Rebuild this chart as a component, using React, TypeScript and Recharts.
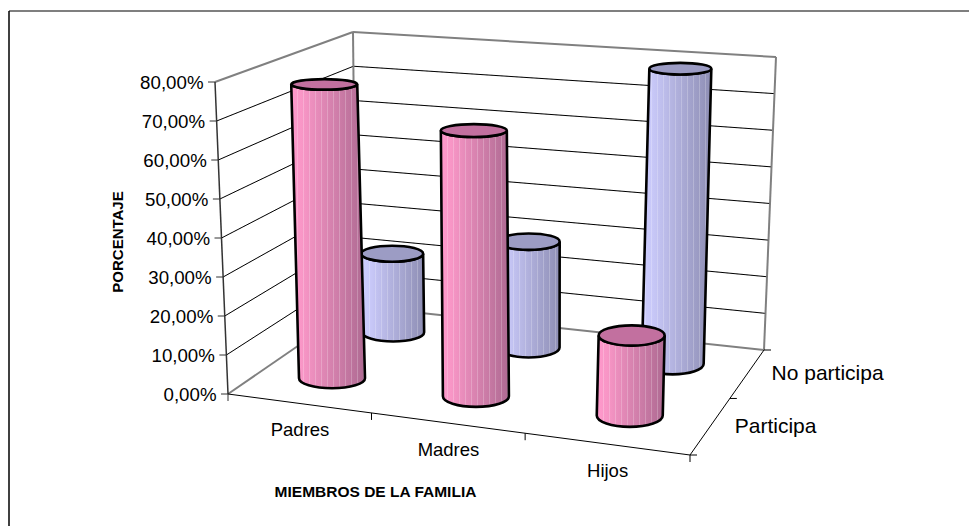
import React from "react";
import { Bar, BarChart, XAxis, YAxis } from "recharts";

const categories = ["Padres", "Madres", "Hijos"];
const participa = [77, 68, 20];
const noParticipa = [22, 29, 79];
const valueTicks = [0, 10, 20, 30, 40, 50, 60, 70, 80];
const depthLabels = ["Participa", "No participa"];

const data = categories.map((name, i) => ({
  name,
  participa: participa[i],
  noParticipa: noParticipa[i],
}));

const W = 969;
const H = 526;
const FONT = "'Liberation Sans', Arial, sans-serif";

// plot rectangle handed to recharts; its scales get mapped onto the 3d box below
const LEFT = 228;
const RIGHT = 690;
const TOP = 82;
const BOTTOM = 394;
const AXIS_W = 60;
const AXIS_H = 40;

type Pt = [number, number];

const floorQuad: Pt[] = [[228, 394], [690, 455], [764, 350], [356, 306]];
const topQuad: Pt[] = [[215, 82], [705, 120], [776, 57], [353, 32]];

function homography(q: Pt[]) {
  const [[x0, y0], [x1, y1], [x2, y2], [x3, y3]] = q;
  const dx1 = x1 - x2, dx2 = x3 - x2, sx = x0 - x1 + x2 - x3;
  const dy1 = y1 - y2, dy2 = y3 - y2, sy = y0 - y1 + y2 - y3;
  const den = dx1 * dy2 - dx2 * dy1;
  const g = (sx * dy2 - dx2 * sy) / den;
  const h = (dx1 * sy - sx * dy1) / den;
  const a = x1 - x0 + g * x1, b = x3 - x0 + h * x3;
  const d = y1 - y0 + g * y1, e = y3 - y0 + h * y3;
  return (u: number, t: number): Pt => {
    const w = g * u + h * t + 1;
    return [(a * u + b * t + x0) / w, (d * u + e * t + y0) / w];
  };
}

const floorAt = homography(floorQuad);
const topAt = homography(topQuad);

// u along categories, d into the depth, v = 0..1 of the value axis
function project(u: number, d: number, v: number): Pt {
  const p = floorAt(u, d);
  const q = topAt(u, d);
  return [p[0] + (q[0] - p[0]) * v, p[1] + (q[1] - p[1]) * v];
}

const line = (a: Pt, b: Pt, stroke: string, sw: number, key?: string) => (
  <line key={key} x1={a[0]} y1={a[1]} x2={b[0]} y2={b[1]} stroke={stroke} strokeWidth={sw} />
);

function Cylinder(props: any, depth: number, halfW: number, kind: string) {
  const { x, y, width, height } = props;
  const u = (x + width / 2 - LEFT) / (RIGHT - LEFT);
  const v = (BOTTOM - y) / (BOTTOM - TOP);
  const v0 = (BOTTOM - (y + height)) / (BOTTOM - TOP);
  const [bx, by] = project(u, depth, v0);
  const [tx, ty] = project(u, depth, v);
  const ry = (yy: number) => 4.7 + 0.016 * (yy - 60) + 1.2 * u;
  const r0 = ry(by);
  const r1 = ry(ty);
  const side = `M${tx - halfW},${ty} L${bx - halfW},${by} A${halfW},${r0} 0 0 0 ${bx + halfW},${by} L${tx + halfW},${ty} A${halfW},${r1} 0 0 1 ${tx - halfW},${ty} Z`;
  return (
    <g>
      <path d={side} fill={`url(#side-${kind})`} />
      <path d={side} fill="url(#stripes)" stroke="#000" strokeWidth={2.6} />
      <ellipse cx={tx} cy={ty} rx={halfW} ry={r1} fill={kind === "pink" ? "#C2709F" : "#9C9CC4"} stroke="#000" strokeWidth={2.6} />
    </g>
  );
}

function Box() {
  const grid = valueTicks.filter((t) => t > 0 && t < 80);
  const top = valueTicks[valueTicks.length - 1];
  return (
    <g>
      <defs>
        <linearGradient id="side-pink" x1="0" y1="0" x2="1" y2="0">
          <stop offset="0" stopColor="#FF99CC" />
          <stop offset="0.15" stopColor="#F896C6" />
          <stop offset="1" stopColor="#AE6A92" />
        </linearGradient>
        <linearGradient id="side-blue" x1="0" y1="0" x2="1" y2="0">
          <stop offset="0" stopColor="#CCCCFF" />
          <stop offset="0.15" stopColor="#C8C8F8" />
          <stop offset="1" stopColor="#8E8EB4" />
        </linearGradient>
        <pattern id="stripes" width="6" height="10" patternUnits="userSpaceOnUse">
          <rect x="3" y="0" width="1" height="10" fill="#fff" fillOpacity={0.22} />
        </pattern>
      </defs>
      {line([9, 11], [W, 11], "#555", 1.5)}
      {line([9, 11], [9, H], "#000", 1.5)}
      {grid.map((t) => (
        <g key={t}>
          {line(project(0, 0, t / top), project(0, 1, t / top), "#000", 1)}
          {line(project(0, 1, t / top), project(1, 1, t / top), "#000", 1)}
        </g>
      ))}
      {line(project(0, 0, 1), project(0, 1, 1), "#808080", 2)}
      {line(project(0, 1, 1), project(1, 1, 1), "#808080", 2)}
      {line(project(0, 1, 0), project(0, 1, 1), "#808080", 2)}
      {line(project(1, 1, 0), project(1, 1, 1), "#808080", 2)}
      {line(project(0, 0, 0), project(0, 1, 0), "#808080", 2)}
      {line(project(0, 1, 0), project(1, 1, 0), "#808080", 2)}
      {line(project(0, 0, 0), project(0, 0, 1), "#333", 1.5)}
      {line(project(0, 0, 0), project(1, 0, 0), "#000", 1)}
      {line(project(1, 0, 0), project(1, 1, 0), "#000", 1)}
      {categories.map((_, i) => {
        const p = project((i + 1) / categories.length, 0, 0);
        return line(p, [p[0], p[1] + 7], "#000", 1, `c${i}`);
      })}
      {line(project(0, 0, 0), [228, 401], "#333", 1)}
      {[0, 0.5, 1].map((d) => {
        const p = project(1, d, 0);
        return line(p, [p[0] + 7, p[1]], "#000", 1, `d${d}`);
      })}
      {depthLabels.map((label, i) => {
        const p = project(1, (i + 0.5) / depthLabels.length, 0);
        return (
          <text key={label} x={p[0] + 24} y={p[1] + 7} fontFamily={FONT} fontSize={21} fill="#000">
            {label}
          </text>
        );
      })}
      <text x={375.5} y={497} textAnchor="middle" fontFamily={FONT} fontSize={15.5} fontWeight="bold" fill="#000">
        MIEMBROS DE LA FAMILIA
      </text>
      <text
        x={123}
        y={242}
        textAnchor="middle"
        transform="rotate(-90 123 242)"
        fontFamily={FONT}
        fontSize={15}
        fontWeight="bold"
        fill="#000"
      >
        PORCENTAJE
      </text>
    </g>
  );
}

// the wall grid shows faintly through the cylinders in the reference
function GridGhost() {
  const grid = valueTicks.filter((t) => t > 0 && t < 80);
  return (
    <g opacity={0.14} strokeDasharray="2 3">
      {grid.map((t) => {
        const a = project(0, 0, t / 80);
        const b = project(0, 1, t / 80);
        const c = project(1, 1, t / 80);
        return (
          <polyline key={t} points={`${a} ${b} ${c}`} fill="none" stroke="#000" strokeWidth={1} />
        );
      })}
    </g>
  );
}

function ValueTick(props: any) {
  const v = props.payload.value;
  const p = project(0, 0, v / 80);
  return (
    <g>
      {line(p, [p[0] - 7, p[1]], "#333", 1)}
      <text x={p[0] - 11.5} y={p[1] + 6.5} textAnchor="end" fontFamily={FONT} fontSize={18.7} fill="#000">
        {v.toFixed(2).replace(".", ",")}%
      </text>
    </g>
  );
}

function CategoryTick(props: any) {
  const u = (props.payload.coordinate - LEFT) / (RIGHT - LEFT);
  const p = project(u, 0, 0);
  return (
    <text x={p[0] + 1.5} y={p[1] + 33} textAnchor="middle" fontFamily={FONT} fontSize={18.5} fill="#000">
      {props.payload.value}
    </text>
  );
}

export default function App() {
  return (
    <div style={{ position: "absolute", left: 0, top: 0, background: "#fff" }}>
      <BarChart
        width={W}
        height={H}
        data={data}
        margin={{ left: LEFT - AXIS_W, top: TOP, right: W - RIGHT, bottom: H - BOTTOM - AXIS_H }}
        barSize={40}
        barGap={-40}
      >
        <Box />
        <XAxis dataKey="name" height={AXIS_H} axisLine={false} tickLine={false} tick={CategoryTick} interval={0} />
        <YAxis width={AXIS_W} domain={[0, 80]} ticks={valueTicks} axisLine={false} tickLine={false} tick={ValueTick} interval={0} />
        <Bar dataKey="noParticipa" isAnimationActive={false} shape={(p: any) => Cylinder(p, 0.76, 31, "blue")} />
        <Bar dataKey="participa" isAnimationActive={false} shape={(p: any) => Cylinder(p, 0.25, 33, "pink")} />
        <GridGhost />
      </BarChart>
    </div>
  );
}
